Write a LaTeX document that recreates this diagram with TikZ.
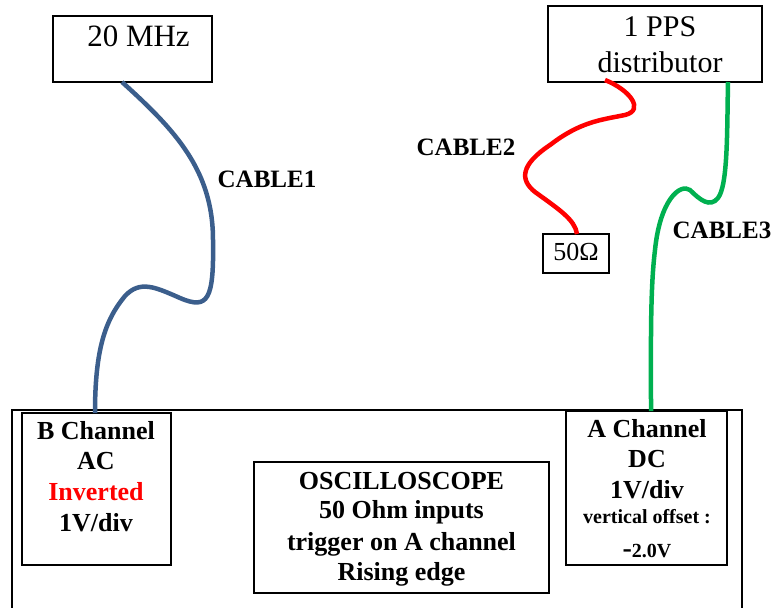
\documentclass[tikz,border=0pt]{standalone}
\usepackage{fontspec}
\setmainfont{Liberation Serif}
\begin{document}
\begin{tikzpicture}[x=1pt,y=-1pt,
  box/.style={draw=black,line width=1.5pt,inner sep=0pt,outer sep=0pt},
  big/.style={anchor=base,inner sep=0pt,font=\fontsize{31}{36}\selectfont},
  lbl/.style={anchor=base,inner sep=0pt,font=\fontsize{25}{30}\selectfont\bfseries},
  chan/.style={anchor=base,inner sep=0pt,font=\fontsize{26}{30}\selectfont\bfseries},
  small/.style={anchor=base,inner sep=0pt,font=\fontsize{20}{24}\selectfont\bfseries},
  cable/.style={line width=4.5pt}]
\definecolor{cblue}{RGB}{59,94,140}
\definecolor{cred}{RGB}{255,0,0}
\definecolor{cgreen}{RGB}{0,176,80}
\useasboundingbox (0,0) rectangle (778,607);
% boxes
\node[box,minimum width=159pt,minimum height=66pt] (mhz) at (132.5,49) {};
\node[box,minimum width=214pt,minimum height=76pt] (pps) at (655,44) {};
\node[box,minimum width=66pt,minimum height=39pt] (ohm) at (576,253.5) {};
\draw[line width=1.5pt] (12,620) -- (12,410) -- (742,410) -- (742,620);
\node[box,minimum width=149pt,minimum height=152pt] (bch) at (96.5,489) {};
\node[box,minimum width=161pt,minimum height=154pt] (ach) at (646.5,488) {};
\node[box,minimum width=295pt,minimum height=131pt] (osc) at (401.5,527.5) {};
% texts
\node[big] (tmhz) at (138.5,47) {20 MHz};
\node[big,font=\fontsize{30}{36}\selectfont] (tpps1) at (660,37) {1 PPS};
\node[big,font=\fontsize{30}{36}\selectfont] (tpps2) at (660,73) {distributor};
\node[big,font=\fontsize{26}{30}\selectfont] (tohm) at (576,260) {50Ω};
\node[lbl] (l1) at (267,187) {CABLE1};
\node[lbl] (l2) at (466,155) {CABLE2};
\node[lbl] (l3) at (722,238) {CABLE3};
\node[chan] (b1) at (96,439) {B Channel};
\node[chan] (b2) at (96,469) {AC};
\node[chan,text=cred] (b3) at (96,500) {Inverted};
\node[chan] (b4) at (96,531) {1V/div};
\node[chan] (a1) at (647,437) {A Channel};
\node[chan] (a2) at (647,467) {DC};
\node[chan] (a3) at (647,498) {1V/div};
\node[small] (a4) at (647,523) {vertical offset :};
\node[small] (a5) at (647,557) {{\fontsize{28}{30}\selectfont -}2.0V};
\node[chan] (o1) at (401.5,489) {OSCILLOSCOPE};
\node[chan] (o2) at (401.5,518) {50 Ohm inputs};
\node[chan] (o3) at (401.5,550) {trigger on A channel};
\node[chan] (o4) at (401.5,580) {Rising edge};
% cable end points
\coordinate (c1a) at (122,82);
\coordinate (c1b) at (95,413);
\coordinate (c2a) at (605,80);
\coordinate (c2b) at (577,234);
\coordinate (c3a) at (728,82);
\coordinate (c3b) at (651,411);
% cables
\draw[cable,cblue] (c1a) .. controls (175,130) and (213,170) .. (213,240)
  .. controls (214,300) and (208,310) .. (180,298)
  .. controls (155,287) and (140,280) .. (125,296)
  .. controls (105,320) and (95,350) .. (c1b);
\draw[cable,cred] (c2a) .. controls (630,90) and (645,110) .. (625,115)
  .. controls (600,120) and (580,122) .. (550,145)
  .. controls (520,165) and (520,180) .. (535,192)
  .. controls (560,210) and (575,220) .. (c2b);
\draw[cable,cgreen] (c3a) .. controls (727,130) and (728,185) .. (718,198)
  .. controls (710,208) and (700,200) .. (690,190)
  .. controls (680,183) and (660,200) .. (655,250)
  .. controls (650,290) and (651,350) .. (c3b);
\end{tikzpicture}
\end{document}
